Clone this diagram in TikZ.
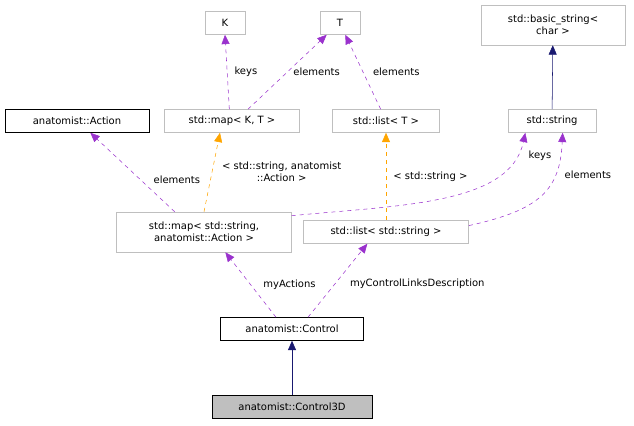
\documentclass[tikz,border=0pt]{standalone}
\usepackage{fontspec}
\setmainfont{DejaVu Sans}
\usetikzlibrary{arrows.meta}
\definecolor{usecol}{HTML}{9A32CD}
\definecolor{tplcol}{HTML}{FFA500}
\definecolor{inhcol}{HTML}{191970}
\definecolor{boxgray}{HTML}{BFBFBF}
\tikzset{
  cls/.style={draw=boxgray, fill=white, inner sep=2pt, minimum height=17.25pt, font=\fontsize{7.5}{9}\selectfont, align=center},
  dcls/.style={cls, draw=black},
  lbl/.style={font=\fontsize{7.5}{9}\selectfont, align=center},
  tip/.style={-{Stealth[length=7pt, width=6pt, inset=0pt]}},
  use/.style={tip, dashed, draw=usecol},
  tpl/.style={tip, dashed, draw=tplcol},
  inh/.style={tip, draw=inhcol}
}
\begin{document}
\begin{tikzpicture}[x=0.75pt, y=-0.75pt]
\useasboundingbox (0,0) rectangle (634,425);

\node[cls, minimum width=30pt] (K) at (225,23) {K};
\node[cls, minimum width=30pt] (T) at (340,23) {T};
\node[cls, minimum width=108pt, minimum height=30pt] (basic) at (553,25) {std::basic\_string\textless\\char \textgreater};
\node[dcls, minimum width=108pt] (action) at (77,121) {anatomist::Action};
\node[cls, minimum width=101pt] (mapKT) at (232,121) {std::map\textless{} K, T \textgreater};
\node[cls, minimum width=80pt] (listT) at (386,121) {std::list\textless{} T \textgreater};
\node[cls, minimum width=66pt] (string) at (552,121) {std::string};
\node[cls, minimum width=131pt, minimum height=30pt] (mapSA) at (204,232) {std::map\textless{} std::string,\\anatomist::Action \textgreater};
\node[cls, minimum width=124pt] (listS) at (386,232) {std::list\textless{} std::string \textgreater};
\node[dcls, minimum width=107pt] (control) at (292,329) {anatomist::Control};
\node[dcls, fill=boxgray, minimum width=120pt] (control3d) at (292,407) {anatomist::Control3D};

% template members
\draw[use] ([xshift=-2pt]mapKT.north) -- (K.south) node[lbl, midway, right=2pt] {keys};
\draw[use] ([xshift=12pt]mapKT.north) -- ([xshift=-10pt]T.south) node[lbl, midway, right=1pt] {elements};
\draw[use] ([xshift=-4pt]listT.north) -- ([xshift=4pt]T.south) node[lbl, midway, right=4pt] {elements};
\draw[inh] (string) -- (basic);

% instances
\draw[use] ([xshift=-22pt]mapSA.north) -- ([xshift=10pt]action.south) node[lbl, pos=0.4, right=6pt] {elements};
\draw[tpl] (mapSA.north) -- ([xshift=-9pt]mapKT.south) node[lbl, pos=0.5, right=4pt] {\textless{} std::string, anatomist\\::Action \textgreater};
\draw[tpl] (listS.north) -- (listT.south) node[lbl, midway, right=2pt] {\textless{} std::string \textgreater};
\draw[use] ([yshift=-3pt]mapSA.north east) .. controls (400,205) and (510,205) .. ([xshift=-20pt]string.south) node[lbl, pos=0.88, right=6pt] {keys};
\draw[use] ([yshift=-4pt]listS.north east) .. controls (540,210) and (560,190) .. ([xshift=8pt]string.south) node[lbl, pos=0.7, right=4pt] {elements};

% members of control
\draw[use] ([xshift=-12pt]control.north) -- ([xshift=16pt]mapSA.south) node[lbl, pos=0.5, right=6pt] {myActions};
\draw[use] ([xshift=12pt]control.north) -- ([xshift=-14pt]listS.south) node[lbl, pos=0.45, right=8pt] {myControlLinksDescription};
\draw[inh] (control3d) -- (control);
\end{tikzpicture}
\end{document}
